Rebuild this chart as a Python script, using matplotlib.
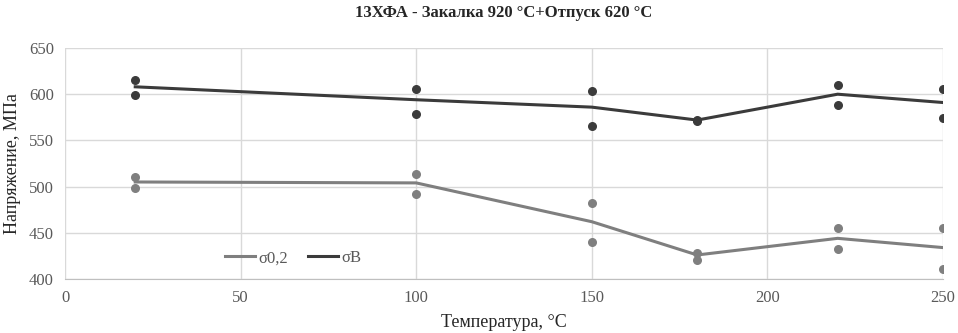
import numpy as np
import matplotlib.pyplot as plt

plt.rcParams.update({
    "font.family": ["Liberation Serif", "DejaVu Serif"],
    "font.size": 11,
})

# Data
temps = [20, 100, 150, 180, 220, 250]
s02_hi = [510, 514, 482, 428, 455, 455]
s02_lo = [499, 492, 440, 421, 432, 411]
s02_mean = [505, 504, 462, 426, 444, 434]
sb_hi = [615, 606, 603, 572, 610, 606]
sb_lo = [599, 579, 566, 571, 588, 574]
sb_mean = [608, 594, 586, 572, 600, 591]

light = '#7f7f7f'
dark = '#3b3b3b'

fig = plt.figure(figsize=(9.58, 3.33), dpi=100)
ax = fig.add_axes([65/958, 54/333, 878/958, 231/333])

ax.scatter(temps, s02_hi, s=30, color=light, zorder=3)
ax.scatter(temps, s02_lo, s=30, color=light, zorder=3)
ax.scatter(temps, sb_hi, s=30, color=dark, zorder=3)
ax.scatter(temps, sb_lo, s=30, color=dark, zorder=3)
ax.plot(temps, s02_mean, color=light, lw=2.2, label='σ0,2', zorder=4)
ax.plot(temps, sb_mean, color=dark, lw=2.2, label='σB', zorder=4)

ax.set_xlim(0, 250)
ax.set_ylim(400, 650)
ax.set_xticks(np.arange(0, 251, 50))
ax.set_yticks(np.arange(400, 651, 50))
ax.grid(True, color='#d9d9d9', lw=1)
ax.set_axisbelow(True)
for s in ['top', 'right', 'left']:
    ax.spines[s].set_visible(False)
ax.spines['bottom'].set_color('#bfbfbf')
ax.tick_params(length=0, colors='#595959', labelsize=12, pad=8)

ax.set_xlabel('Температура, °С', fontsize=13, color='#262626', labelpad=6)
ax.set_ylabel('Напряжение, МПа', fontsize=13, color='#262626', labelpad=6)
ax.set_title('13ХФА - Закалка 920 °С+Отпуск 620 °С', fontsize=12,
             fontweight='bold', color='#262626', pad=22)

ax.legend(loc='center', bbox_to_anchor=(0.26, 0.09), ncol=2, frameon=False,
          fontsize=12, handlelength=1.8, handletextpad=0.2, columnspacing=1.2,
          labelcolor='#595959')

fig.savefig('out.png', dpi=100)
